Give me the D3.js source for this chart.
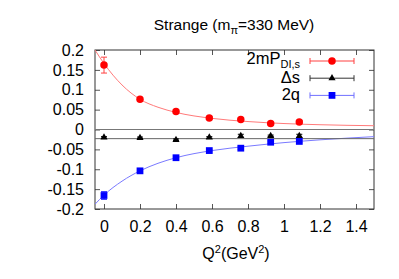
<!DOCTYPE html>
<html lang="en">
<head>
  <meta charset="UTF-8">
  <title>Strange (m_pi=330 MeV)</title>
  <script src="https://d3js.org/d3.v7.min.js"></script>
  <style>
    body { margin: 0; background: #fff; }
    text { font-family: "Liberation Sans", Arial, sans-serif; fill: #000; }
  </style>
</head>
<body>
  <svg id="chart" width="399" height="279"></svg>
  <script>
    // data points
    const q2 = [0, 0.2, 0.4, 0.585, 0.76, 0.926, 1.085];
    const pDI = [0.162, 0.076, 0.045, 0.029, 0.025, 0.015, 0.019];
    const pDIErr = [0.02, 0.003, 0.003, 0.003, 0.003, 0.003, 0.003];
    const deltaS = [-0.02, -0.021, -0.026, -0.02, -0.016, -0.016, -0.016];
    const deltaSErr = [0.002, 0.002, 0.002, 0.002, 0.004, 0.002, 0.004];
    const twoQ = [-0.166, -0.104, -0.071, -0.053, -0.047, -0.032, -0.030];
    const twoQErr = [0.01, 0.003, 0.003, 0.003, 0.003, 0.003, 0.003];

    // fit curves
    const fitQ2 = [-0.05, 0, 0.1, 0.2, 0.3, 0.4, 0.6, 0.8, 1.0, 1.2, 1.5];
    const fitPDI = [0.2, 0.166, 0.112, 0.076, 0.056, 0.043, 0.028, 0.020, 0.015, 0.012, 0.0095];
    const fitTwoQ = [-0.188, -0.165, -0.13, -0.104, -0.085, -0.071, -0.053, -0.042, -0.033, -0.026, -0.018];
    const fitDeltaS = [-0.023, -0.023];
    const fitDeltaSQ2 = [-0.05, 1.5];

    const xTicks = [0, 0.2, 0.4, 0.6, 0.8, 1, 1.2, 1.4];
    const yTicks = [-0.2, -0.15, -0.1, -0.05, 0, 0.05, 0.1, 0.15, 0.2];

    const mLeft = 95, mRight = 374, mTop = 50, mBottom = 209;
    const svg = d3.select("#chart");

    const x = d3.scaleLinear().domain([-0.05, 1.5]).range([mLeft, mRight]);
    const y = d3.scaleLinear().domain([-0.2, 0.2]).range([mBottom, mTop]);

    // axes with inward ticks, mirrored
    const fmt = d => String(+d.toFixed(2));
    const axB = svg.append("g").attr("transform", `translate(0,${mBottom})`)
      .call(d3.axisBottom(x).tickValues(xTicks).tickSize(-5).tickPadding(12).tickFormat(fmt));
    const axT = svg.append("g").attr("transform", `translate(0,${mTop})`)
      .call(d3.axisTop(x).tickValues(xTicks).tickSize(-5).tickFormat(""));
    const axL = svg.append("g").attr("transform", `translate(${mLeft},0)`)
      .call(d3.axisLeft(y).tickValues(yTicks).tickSize(-5).tickPadding(11).tickFormat(fmt));
    const axR = svg.append("g").attr("transform", `translate(${mRight},0)`)
      .call(d3.axisRight(y).tickValues(yTicks).tickSize(-5).tickFormat(""));
    [axB, axT, axL, axR].forEach(a => {
      a.select(".domain").remove();
      a.selectAll("line").attr("stroke", "#555");
      a.selectAll("text").attr("font-size", 16).attr("font-family", "Liberation Sans, Arial, sans-serif");
    });

    svg.append("rect")
      .attr("x", mLeft).attr("y", mTop)
      .attr("width", mRight - mLeft).attr("height", mBottom - mTop)
      .attr("fill", "none").attr("stroke", "#333").attr("stroke-width", 1);

    // zero line
    svg.append("line")
      .attr("x1", mLeft).attr("x2", mRight)
      .attr("y1", y(0)).attr("y2", y(0))
      .attr("stroke", "#777").attr("stroke-width", 1);

    svg.append("clipPath").attr("id", "plotClip")
      .append("rect").attr("x", mLeft).attr("y", mTop)
      .attr("width", mRight - mLeft).attr("height", mBottom - mTop);

    const line = d3.line().x(d => x(d[0])).y(d => y(d[1])).curve(d3.curveMonotoneX);
    const plot = svg.append("g").attr("clip-path", "url(#plotClip)");

    plot.append("path").datum(d3.zip(fitQ2, fitPDI))
      .attr("d", line).attr("fill", "none").attr("stroke", "#ff7a7a").attr("stroke-width", 1);
    plot.append("path").datum(d3.zip(fitQ2, fitTwoQ))
      .attr("d", line).attr("fill", "none").attr("stroke", "#7a7aff").attr("stroke-width", 1);
    plot.append("path").datum(d3.zip(fitDeltaSQ2, fitDeltaS))
      .attr("d", line).attr("fill", "none").attr("stroke", "#666").attr("stroke-width", 1);

    function errorBars(vals, errs, color) {
      const g = plot.append("g").attr("stroke", color).attr("stroke-width", 1);
      q2.forEach((q, i) => {
        const cx = x(q), y1 = y(vals[i] + errs[i]), y2 = y(vals[i] - errs[i]);
        g.append("line").attr("x1", cx).attr("x2", cx).attr("y1", y1).attr("y2", y2);
        g.append("line").attr("x1", cx - 3).attr("x2", cx + 3).attr("y1", y1).attr("y2", y1);
        g.append("line").attr("x1", cx - 3).attr("x2", cx + 3).attr("y1", y2).attr("y2", y2);
      });
    }
    errorBars(pDI, pDIErr, "#ff4040");
    errorBars(deltaS, deltaSErr, "#000");
    errorBars(twoQ, twoQErr, "#4040ff");

    const circle = d3.symbol().type(d3.symbolCircle).size(44);
    const tri = d3.symbol().type(d3.symbolTriangle).size(22);
    const sq = d3.symbol().type(d3.symbolSquare).size(46);

    plot.selectAll(".pdi").data(d3.zip(q2, pDI)).join("path")
      .attr("transform", d => `translate(${x(d[0])},${y(d[1])})`)
      .attr("d", circle).attr("fill", "#ff0000");
    plot.selectAll(".ds").data(d3.zip(q2, deltaS)).join("path")
      .attr("transform", d => `translate(${x(d[0])},${y(d[1])})`)
      .attr("d", tri).attr("fill", "#000");
    plot.selectAll(".tq").data(d3.zip(q2, twoQ)).join("path")
      .attr("transform", d => `translate(${x(d[0])},${y(d[1])})`)
      .attr("d", sq).attr("fill", "#0000ff");

    // legend
    const legend = [
      { name: "2mP", sub: "DI,s", color: "#ff0000", line: "#ff4040", sym: circle, dy: 3 },
      { name: "\u0394s", sub: null, color: "#000", line: "#333", sym: tri, dy: 5 },
      { name: "2q", sub: null, color: "#0000ff", line: "#7070ff", sym: sq, dy: 5 }
    ];
    legend.forEach((d, i) => {
      const ly = 61 + i * 17.2;
      const t = svg.append("text").attr("x", 300).attr("y", ly + d.dy)
        .attr("text-anchor", "end").attr("font-size", 16.5);
      t.append("tspan").text(d.name);
      if (d.sub) t.append("tspan").attr("dy", 4).attr("font-size", 11).text(d.sub);
      const g = svg.append("g").attr("stroke", d.line).attr("stroke-width", 1);
      g.append("line").attr("x1", 310).attr("x2", 354).attr("y1", ly).attr("y2", ly);
      g.append("line").attr("x1", 310).attr("x2", 310).attr("y1", ly - 3).attr("y2", ly + 3);
      g.append("line").attr("x1", 354).attr("x2", 354).attr("y1", ly - 3).attr("y2", ly + 3);
      svg.append("path").attr("transform", `translate(332,${ly})`)
        .attr("d", d.sym).attr("fill", d.color);
    });

    // title
    const title = svg.append("text").attr("x", 234).attr("y", 30)
      .attr("text-anchor", "middle").attr("font-size", 15.5);
    title.append("tspan").text("Strange (m");
    title.append("tspan").attr("dy", 4).attr("font-size", 11).text("\u03c0");
    title.append("tspan").attr("dy", -4).text("=330 MeV)");

    // x label
    const xl = svg.append("text").attr("x", 236).attr("y", 259)
      .attr("text-anchor", "middle").attr("font-size", 16);
    xl.append("tspan").text("Q");
    xl.append("tspan").attr("dy", -6).attr("font-size", 11).text("2");
    xl.append("tspan").attr("dy", 6).text("(GeV");
    xl.append("tspan").attr("dy", -6).attr("font-size", 11).text("2");
    xl.append("tspan").attr("dy", 6).text(")");
  </script>
</body>
</html>
